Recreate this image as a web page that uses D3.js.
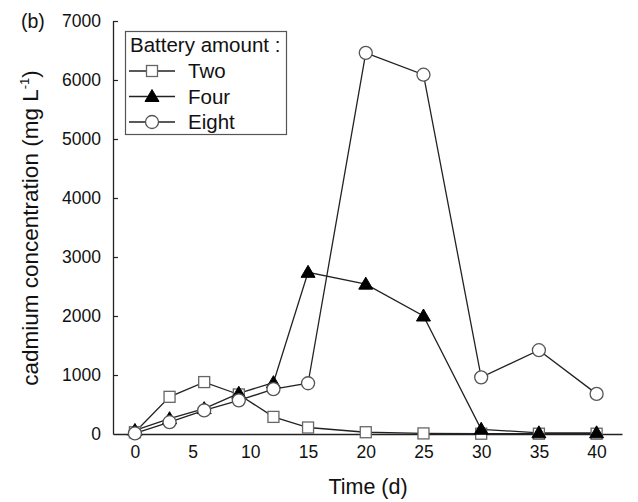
<!DOCTYPE html>
<html>
<head>
<meta charset="utf-8">
<script src="https://cdn.jsdelivr.net/npm/d3@7"></script>
<style>
  body { margin: 0; background: #fff; }
  text { font-family: Arial, "Liberation Sans", sans-serif; }
</style>
</head>
<body>
<svg width="638" height="502"></svg>
<script>
// data (time in days, cadmium in mg/L)
var days = [0, 3, 6, 9, 12, 15, 20, 25, 30, 35, 40];
var two = [30, 630, 880, 670, 290, 110, 30, 10, 5, 5, 5];
var four = [60, 260, 430, 690, 870, 2740, 2540, 2000, 80, 20, 20];
var eight = [10, 200, 400, 570, 760, 860, 6460, 6090, 960, 1420, 680];
var xTicks = [0, 5, 10, 15, 20, 25, 30, 35, 40];
var yTicks = [0, 1000, 2000, 3000, 4000, 5000, 6000, 7000];

var series = [
    {name: "Two", values: two, shape: "square"},
    {name: "Four", values: four, shape: "triangle"},
    {name: "Eight", values: eight, shape: "circle"}
];

var svg = d3.select("svg");

// scales: axis frame runs a bit past 0 and 40
var x = d3.scaleLinear().domain([-1.9, 42.2]).range([113, 622]),
    y = d3.scaleLinear().domain([0, 7000]).range([434, 21]);

// x axis, no tick marks
var xAxis = svg.append("g")
    .attr("transform", "translate(0," + y(0) + ")")
    .call(d3.axisBottom(x).tickValues(xTicks).tickSize(0).tickPadding(12).tickSizeOuter(0));
xAxis.select(".domain").attr("stroke", "#222").attr("stroke-width", 1.3);
xAxis.selectAll(".tick text").attr("font-size", 17.5).attr("fill", "#111").attr("font-family", "Arial, 'Liberation Sans', sans-serif");

// y axis, ticks pointing inward
var yAxis = svg.append("g")
    .attr("transform", "translate(" + x(-1.9) + ",0)")
    .call(d3.axisLeft(y).tickValues(yTicks).tickFormat(d3.format("d")).tickSize(-5).tickPadding(12).tickSizeOuter(0));
yAxis.select(".domain").attr("stroke", "#222").attr("stroke-width", 1.3);
yAxis.selectAll(".tick line").attr("stroke", "#222").attr("stroke-width", 1.2);
yAxis.selectAll(".tick text").attr("font-size", 17.5).attr("fill", "#111").attr("font-family", "Arial, 'Liberation Sans', sans-serif");
yAxis.select(".tick:first-of-type line").remove();

// axis titles
svg.append("text")
    .attr("x", 368).attr("y", 494)
    .attr("text-anchor", "middle")
    .attr("font-size", 21.5)
    .attr("fill", "#111")
    .text("Time (d)");

var yTitle = svg.append("text")
    .attr("transform", "translate(38,228) rotate(-90)")
    .attr("text-anchor", "middle")
    .attr("font-size", 22.5)
    .attr("fill", "#111");
yTitle.append("tspan").text("cadmium concentration (mg L");
yTitle.append("tspan").attr("font-size", 13).attr("dy", -9).text("-1");
yTitle.append("tspan").attr("dy", 9).text(")");

svg.append("text")
    .attr("x", 21).attr("y", 28)
    .attr("font-size", 19.5)
    .attr("fill", "#111")
    .text("(b)");

var line = d3.line()
    .x(function(d) { return x(d[0]); })
    .y(function(d) { return y(d[1]); });

// draws one marker at (cx, cy)
function marker(g, shape, cx, cy) {
    if (shape === "square") {
        g.append("rect")
            .attr("x", cx - 5.5).attr("y", cy - 5.5)
            .attr("width", 11).attr("height", 11)
            .attr("fill", "#fff").attr("stroke", "#666").attr("stroke-width", 1.3);
    } else if (shape === "triangle") {
        g.append("path")
            .attr("d", "M" + cx + "," + (cy - 7) + "L" + (cx + 7) + "," + (cy + 5) + "L" + (cx - 7) + "," + (cy + 5) + "Z")
            .attr("fill", "#000").attr("stroke", "#000");
    } else {
        g.append("circle")
            .attr("cx", cx).attr("cy", cy).attr("r", 6.5)
            .attr("fill", "#fff").attr("stroke", "#555").attr("stroke-width", 1.3);
    }
}

// lines first, then markers on top
series.forEach(function(s) {
    var pts = days.map(function(d, i) { return [d, s.values[i]]; });
    svg.append("path")
        .datum(pts)
        .attr("d", line)
        .attr("fill", "none")
        .attr("stroke", "#222")
        .attr("stroke-width", 1.3);
});
series.forEach(function(s) {
    var g = svg.append("g");
    days.forEach(function(d, i) { marker(g, s.shape, x(d), y(s.values[i])); });
});

// legend
var legend = svg.append("g");
legend.append("rect")
    .attr("x", 125.5).attr("y", 31.5)
    .attr("width", 161).attr("height", 103)
    .attr("fill", "#fff").attr("stroke", "#555").attr("stroke-width", 1.2);
legend.append("text")
    .attr("x", 130).attr("y", 52)
    .attr("font-size", 20.5)
    .attr("fill", "#111")
    .text("Battery amount :");
series.forEach(function(s, i) {
    var ly = 71 + i * 25.5;
    legend.append("line")
        .attr("x1", 129).attr("x2", 175).attr("y1", ly).attr("y2", ly)
        .attr("stroke", "#222").attr("stroke-width", 1.3);
    marker(legend, s.shape, 152, ly);
    legend.append("text")
        .attr("x", 188).attr("y", ly + 7)
        .attr("font-size", 20.5)
        .attr("fill", "#111")
        .text(s.name);
});
</script>
</body>
</html>
